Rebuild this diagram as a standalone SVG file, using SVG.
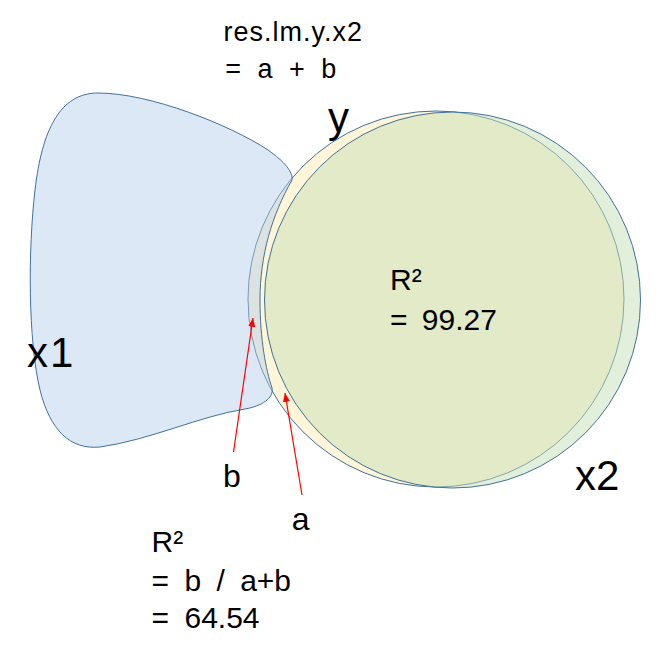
<svg xmlns="http://www.w3.org/2000/svg" width="671" height="655" viewBox="0 0 671 655">
  <defs>
    <style>
      .shape { stroke: #41719C; stroke-width: 1; }
      .t { font-family: "Liberation Sans", Arial, sans-serif; fill: #000000; }
      .m { font-size: 30px; word-spacing: 7px; }
      .big { font-size: 42px; }
      .lbl { font-size: 32px; }
      .top { font-size: 27px; }
      .arrow { stroke: #FF0000; stroke-width: 1.2; fill: none; marker-end: url(#ah); }
    </style>
    <marker id="ah" viewBox="0 0 10 8" refX="10" refY="4" markerWidth="9" markerHeight="7" markerUnits="userSpaceOnUse" orient="auto">
      <path d="M0,0 L10,4 L0,8 z" fill="#FF0000"/>
    </marker>
  </defs>
  <rect width="671" height="655" fill="#FFFFFF"/>

  <g id="y">
    <circle class="shape" cx="436" cy="299" r="188" fill="#FFF5D9"/>
    <text class="t big" x="328" y="132">y</text>
  </g>

  <g id="x2">
    <circle class="shape" cx="452.5" cy="300" r="188" fill="#C5DFB5" fill-opacity="0.5"/>
    <text class="t big" x="575" y="490">x2</text>
  </g>

  <g id="x1">
    <path class="shape" fill="#B2CCE9" fill-opacity="0.45" d="M 98,93 C 150,93 230,125 268,150 C 285,162 293,172 292,180 C 272,215 260,255 260,300 C 260,340 266,370 272,388 C 274,398 262,406 245,409 C 200,416 150,440 100,447 C 70,450 50,430 40,390 C 28,340 28,250 35,190 C 42,130 60,93 98,93 Z"/>
    <text class="t big" x="27" y="367" letter-spacing="2">x1</text>
  </g>

  <g id="title">
    <text class="t top" x="223.5" y="41" letter-spacing="1">res.lm.y.x2</text>
    <text class="t top" x="225.2" y="78" word-spacing="9">= a + b</text>
  </g>

  <g id="r2-inner">
    <text class="t m" x="390" y="290">R²</text>
    <text class="t m" x="390" y="330" style="word-spacing:6px">= 99.27</text>
  </g>

  <g id="r2-outer">
    <text class="t m" x="151.6" y="552">R²</text>
    <text class="t m" x="151.6" y="591">= b / a+b</text>
    <text class="t m" x="151.6" y="628">= 64.54</text>
  </g>

  <g id="label-b">
    <text class="t lbl" x="223" y="487">b</text>
  </g>
  <g id="label-a">
    <text class="t lbl" x="291.8" y="530">a</text>
  </g>

  <g id="connectors">
    <line class="arrow" x1="233.5" y1="452" x2="253" y2="318"/>
    <line class="arrow" x1="302" y1="495" x2="285" y2="393"/>
  </g>
</svg>
